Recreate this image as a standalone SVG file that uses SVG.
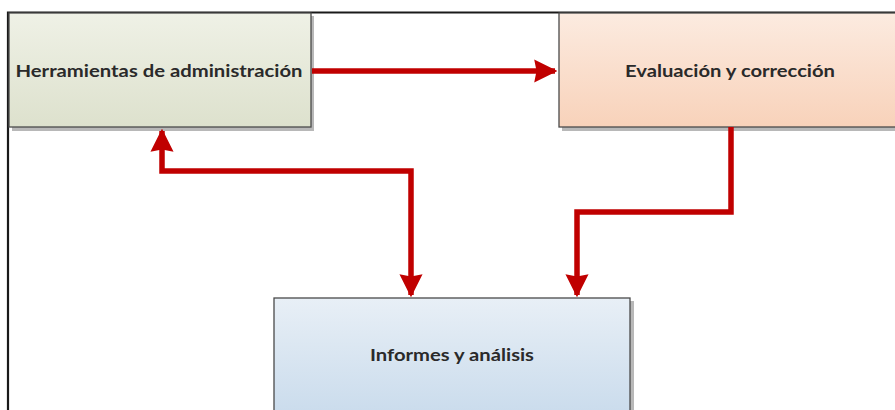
<svg xmlns="http://www.w3.org/2000/svg" width="895" height="410" viewBox="0 0 895 410">
  <defs>
    <linearGradient id="gGreen" x1="0" y1="0" x2="0" y2="1">
      <stop offset="0" stop-color="#eff1e6"/>
      <stop offset="1" stop-color="#dde1cd"/>
    </linearGradient>
    <linearGradient id="gOrange" x1="0" y1="0" x2="0" y2="1">
      <stop offset="0" stop-color="#fcebe0"/>
      <stop offset="1" stop-color="#f8d2ba"/>
    </linearGradient>
    <linearGradient id="gBlue" x1="0" y1="0" x2="0" y2="1">
      <stop offset="0" stop-color="#e8eff6"/>
      <stop offset="1" stop-color="#c9dbec"/>
    </linearGradient>
    <marker id="ah" viewBox="0 0 10 10" refX="9" refY="5" markerWidth="4.2" markerHeight="4.6" orient="auto-start-reverse" markerUnits="strokeWidth">
      <path d="M0,0 L10,5 L0,10 L1,5 Z" fill="#c00000"/>
    </marker>
    <style>
      .box { stroke: #4a4a4a; stroke-width: 1.3; }
      .shadow { fill: #a0a0a0; opacity: 0.75; }
      .lbl { font-family: Lato, "Liberation Sans", sans-serif; font-weight: bold; font-size: 17px; fill: #2a2a2a; text-anchor: middle; }
      .conn { fill: none; stroke: #c00000; stroke-width: 5.5; stroke-linejoin: miter; }
    </style>
  </defs>
  <rect width="895" height="410" fill="#ffffff"/>
  <!-- outer frame -->
  <path d="M8,410 L8,12.5 L895,12.5" fill="none" stroke="#1a1a1a" stroke-width="2.2"/>

  <g id="node-herramientas">
    <rect class="shadow" x="12" y="16" width="302" height="115"/>
    <rect class="box" x="9" y="13" width="302" height="114" fill="url(#gGreen)"/>
    <text class="lbl" x="159" y="77" textLength="287" lengthAdjust="spacingAndGlyphs">Herramientas de administración</text>
  </g>

  <g id="node-evaluacion">
    <rect class="shadow" x="562" y="16" width="345" height="115"/>
    <rect class="box" x="559" y="13" width="345" height="114" fill="url(#gOrange)"/>
    <text class="lbl" x="730" y="77" textLength="210" lengthAdjust="spacingAndGlyphs">Evaluación y corrección</text>
  </g>

  <g id="node-informes">
    <rect class="shadow" x="277" y="301" width="357" height="120"/>
    <rect class="box" x="274" y="298" width="356" height="120" fill="url(#gBlue)"/>
    <text class="lbl" x="452" y="361" textLength="164" lengthAdjust="spacingAndGlyphs">Informes y análisis</text>
  </g>

  <g id="connectors">
    <path class="conn" d="M312,71 L555,71" marker-end="url(#ah)"/>
    <path class="conn" d="M162,131 L162,171 L411,171 L411,295" marker-start="url(#ah)" marker-end="url(#ah)"/>
    <path class="conn" d="M731,127 L731,212 L577,212 L577,295" marker-end="url(#ah)"/>
  </g>
</svg>
